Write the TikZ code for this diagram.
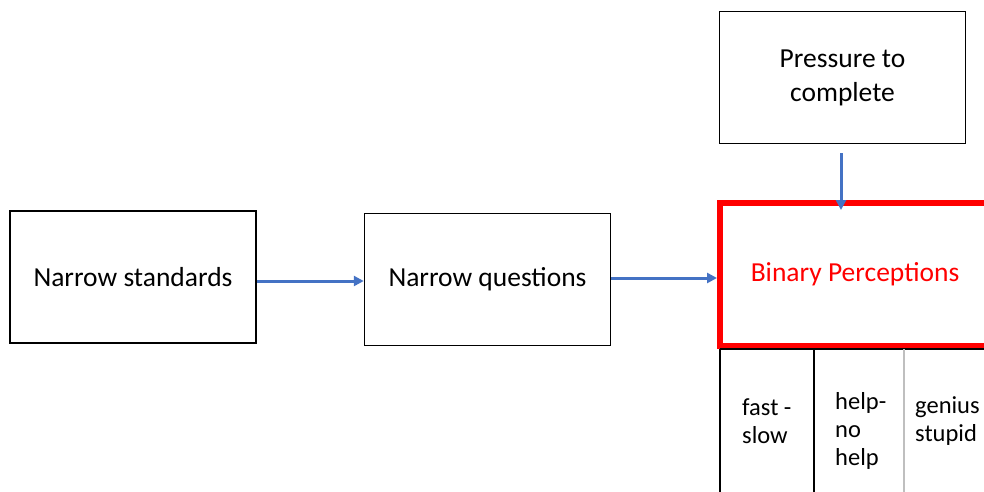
\documentclass[tikz,border=0pt]{standalone}
\usepackage{fontspec}
\setmainfont{Carlito}
\usetikzlibrary{arrows.meta}
\definecolor{flowblue}{RGB}{68,114,196}
\begin{document}
\begin{tikzpicture}[x=1pt,y=-1pt,
    box/.style={draw,line width=1.5pt,minimum width=246pt,minimum height=132pt,inner sep=0pt,
        font=\fontsize{27.5}{34}\selectfont,align=center},
    flow/.style={flowblue,line width=3pt,-{Triangle[length=10pt,width=10pt]}},
    cell/.style={anchor=west,align=left,inner sep=0pt,font=\fontsize{24.5}{28}\selectfont}]
    \clip (0,0) rectangle (984,491);
    \node[box] (standards) at (133,277) {Narrow standards};
    \node[box] (questions) at (487.5,279.5) {Narrow questions};
    \node[box] (pressure) at (842.5,77.5) {Pressure to\\complete};
    \node[box,draw=red,line width=6pt,minimum width=270pt,minimum height=143pt,text=red] (binary) at (855,274.5) {Binary Perceptions};
    % table under the red box
    \draw[line width=1.5pt] (720,349) -- (990,349);
    \foreach \col/\shade in {720/black,814/black,904/black!25}
        \draw[\shade,line width=1.5pt] (\col,349) -- (\col,495);
    \node[cell] (fast) at (742,421) {fast -\\slow};
    \node[cell] (help) at (835,431) {help-\\no\\help};
    \node[cell] (genius) at (915,421) {genius\\stupid};
    % arrows
    \draw[flow] (standards.east |- 0,281) -- (questions.west |- 0,281);
    \draw[flow] (questions.east |- 0,278) -- (binary.west |- 0,278);
    \draw[flow] ([xshift=-1.5pt,yshift=-9pt]pressure.south) -- ([xshift=-1.5pt,yshift=-10pt]pressure.south |- binary.north);
\end{tikzpicture}
\end{document}
